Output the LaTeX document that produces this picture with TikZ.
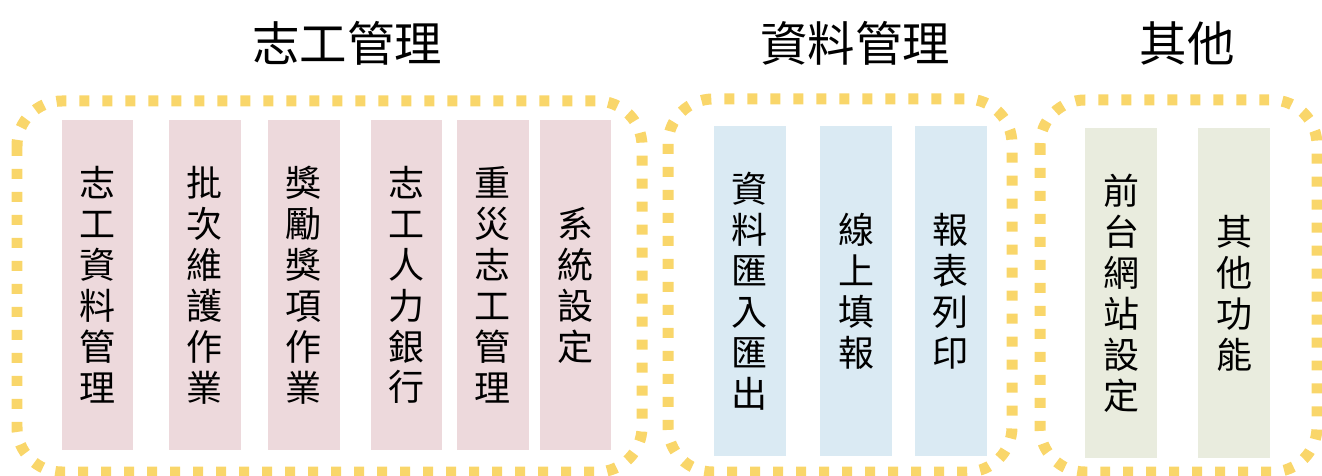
\documentclass[tikz,border=0pt]{standalone}
\usepackage{fontspec}
\setmainfont{Noto Sans CJK TC}
\usetikzlibrary{positioning}
\definecolor{frameYellow}{HTML}{F9D66A}
\definecolor{boxPink}{HTML}{EDD9DC}
\definecolor{boxBlue}{HTML}{DAEAF3}
\definecolor{boxGreen}{HTML}{E9ECDE}

\tikzset{
  groupframe/.style={frameYellow, line width=0.22cm, rounded corners=0.9cm, dash pattern=on 0.2cm off 0.26cm},
  itembox/.style={minimum width=1.44cm, minimum height=6.6cm, inner sep=0pt, align=center, font=\fontsize{20.5}{23.3}\selectfont},
  grouptitle/.style={font=\fontsize{27}{30}\selectfont}
}

\begin{document}
\begin{tikzpicture}[x=0.02cm, y=-0.02cm]
            \useasboundingbox (0,0) rectangle (1322,476);
            % Dotted group frames
            \draw[groupframe] (17,101) rectangle (642,472);
            \draw[groupframe] (668,99) rectangle (1012,472);
            \draw[groupframe] (1040,100) rectangle (1317,472);

            % Titles
            \node[grouptitle] (tvolunteer) at (347,43) {志工管理};
            \node[grouptitle] (tdata) at (855,43) {資料管理};
            \node[grouptitle] (tother) at (1187,43) {其他};

            % Volunteer items
            \foreach \x/\name/\txt in {97.5/vinfo/{志\\工\\資\\料\\管\\理}, 205/vbatch/{批\\次\\維\\護\\作\\業}, 304/vaward/{獎\\勵\\獎\\項\\作\\業}, 406.5/vbank/{志\\工\\人\\力\\銀\\行}, 493/vdisaster/{重\\災\\志\\工\\管\\理}, 575.5/vsystem/{系\\統\\設\\定}}
              \node[itembox, fill=boxPink] (\name) at (\x,285) {\txt};

            % Data items
            \foreach \x/\name/\txt in {749.5/dimport/{資\\料\\匯\\入\\匯\\出}, 856/donline/{線\\上\\填\\報}, 950.5/dprint/{報\\表\\列\\印}}
              \node[itembox, fill=boxBlue] (\name) at (\x,291) {\txt};

            % Other items
            \foreach \x/\name/\txt in {1121/oweb/{前\\台\\網\\站\\設\\定}, 1234/omisc/{其\\他\\功\\能}}
              \node[itembox, fill=boxGreen] (\name) at (\x,293) {\txt};
        \end{tikzpicture}
\end{document}
